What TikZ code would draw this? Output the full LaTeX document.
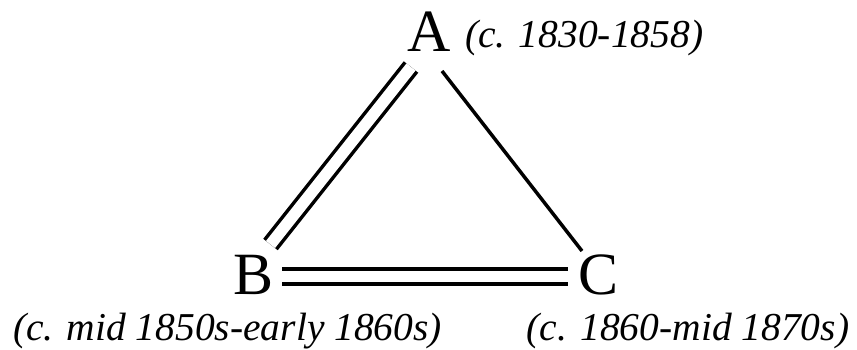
\documentclass[tikz,border=0pt]{standalone}
\usepackage{fontspec}
\setmainfont{Liberation Serif}
\usepackage{tikz}
\usetikzlibrary{positioning,calc}

\begin{document}
\begin{tikzpicture}[x=1pt,y=1pt,
    vertex/.style={inner sep=0pt, font=\fontsize{60}{72}\selectfont},
    period/.style={inner sep=0pt, font=\fontsize{39.5}{46}\selectfont\itshape},
    single/.style={line width=3.5pt},
    twin/.style={line width=3.5pt, double, double distance=11.5pt}]
    \useasboundingbox (0,0) rectangle (857,-349);

    % the three stages
    \node[vertex] (A) at (429,-32) {A};
    \node[vertex] (B) at (254,-275) {B};
    \node[vertex] (C) at (599,-275) {C};

    % dates
    \node[period, anchor=base west] (Adate) at (465,-47) {(c. 1830-1858)};
    \node[period, anchor=base] (Bdate) at (227.5,-340) {(c. mid 1850s-early 1860s)};
    \node[period, anchor=base] (Cdate) at (688,-340) {(c. 1860-mid 1870s)};

    % links
    \draw[twin] ([shift={(-18,-35)}]A.center) -- ([shift={(16.5,30.5)}]B.center);
    \draw[single] ([shift={(13,-39)}]A.center) -- ([shift={(-17,24)}]C.center);
    \draw[twin] ([shift={(28,-1.5)}]B.center) -- ([shift={(-31,-1.5)}]C.center);
\end{tikzpicture}
\end{document}
